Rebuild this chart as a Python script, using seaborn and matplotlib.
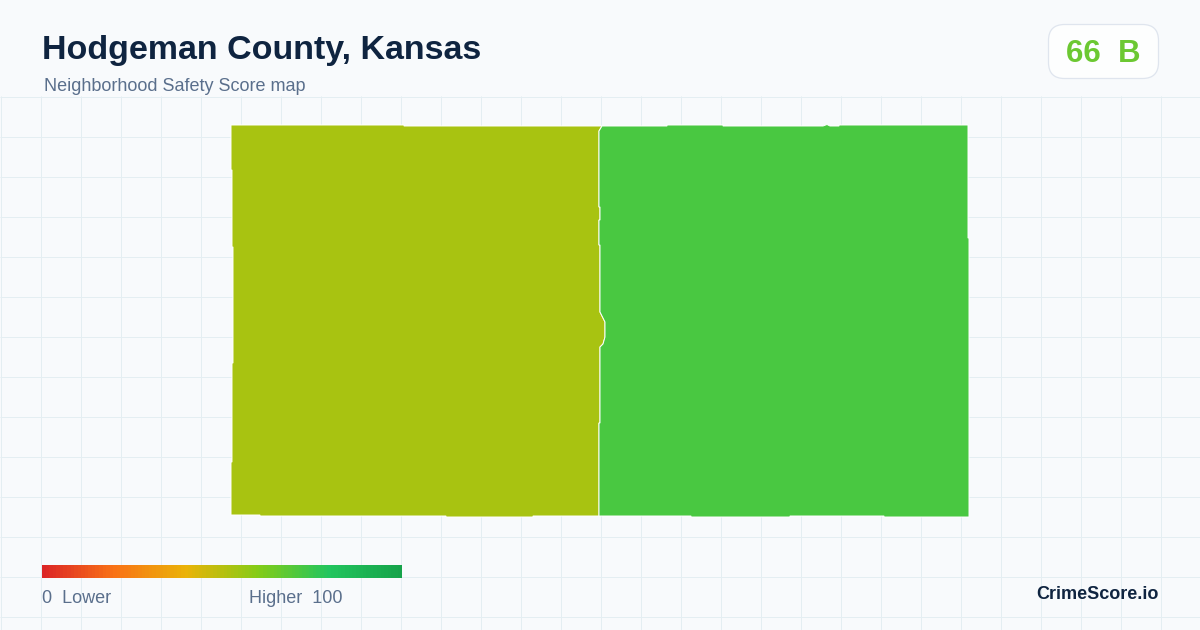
"""Hodgeman County safety score map card."""

import matplotlib.pyplot as plt
import numpy as np
import seaborn as sns
from matplotlib.colors import LinearSegmentedColormap
from matplotlib.patches import FancyBboxPatch

TITLE = "Hodgeman County, Kansas"
SUBTITLE = "Neighborhood Safety Score map"
BADGE = "66  B"
BRAND = "CrimeScore.io"

# area scores
AREA_SCORES = [53, 72]

# outlines, in image pixels
WEST_X = [231, 404, 404, 600, 602, 599, 599, 600, 600, 599, 599, 600, 600, 602, 605,
          605, 603, 600, 600, 599, 599, 533, 533, 446, 446, 260, 260, 231, 231, 232,
          232, 233, 233, 232, 232, 231]
WEST_Y = [125, 125, 126, 126, 126, 131, 207, 207, 220, 220, 245, 245, 312, 316, 322,
          337, 344, 347, 423, 423, 516, 516, 517, 517, 516, 516, 515, 515, 462, 462,
          363, 363, 247, 247, 170, 170]
EAST_X = [602, 667, 667, 723, 723, 823, 827, 830, 839, 839, 968, 968, 969, 969, 884,
          884, 790, 790, 691, 691, 599, 599, 600, 600, 603, 605, 605, 602, 600, 600,
          599, 599, 600, 600, 599, 599]
EAST_Y = [126, 126, 125, 125, 126, 126, 124.5, 126, 126, 125, 125, 238, 238, 517, 517,
          516, 516, 517, 517, 516, 516, 423, 423, 347, 344, 337, 322, 316, 312, 245,
          245, 220, 220, 207, 207, 131]

LEGEND_STOPS = [0.0, 0.2, 0.4, 0.6, 0.8, 1.0]
LEGEND_COLORS = ["#dc2626", "#f97316", "#eab308", "#84cc16", "#22c55e", "#16a34a"]
LEGEND_RANGE = [0, 100]

BG_COLOR = "#f8fafc"
GRID_COLOR = "#e4eef2"
INK_COLOR = "#0f2440"
MUTED_COLOR = "#5a6f8c"
BADGE_COLOR = "#6cc832"

W, H = 1200, 630

sns.set_theme(style="white")
plt.rcParams["font.family"] = ["Liberation Sans", "DejaVu Sans"]

score_cmap = LinearSegmentedColormap.from_list(
    "score", list(zip(LEGEND_STOPS, LEGEND_COLORS)), N=512
)

fig = plt.figure(figsize=(W / 100, H / 100), dpi=100, facecolor=BG_COLOR)
ax = fig.add_axes([0, 0, 1, 1])
ax.set_xlim(0, W)
ax.set_ylim(H, 0)
ax.set_facecolor(BG_COLOR)
ax.axis("off")

# background grid only starts under the header
ax.vlines(np.arange(0.5, W, 40), 96, H, color=GRID_COLOR, lw=0.72, zorder=1)
ax.hlines(np.arange(96.5, H, 40), 0, W, color=GRID_COLOR, lw=0.72, zorder=1)

for xs, ys, score in zip([WEST_X, EAST_X], [WEST_Y, EAST_Y], AREA_SCORES):
    ax.fill(xs, ys, facecolor=score_cmap(score / 100), edgecolor="white", lw=0.7,
            joinstyle="miter", zorder=2)

ax.text(42, 59, TITLE, fontsize=24.5, fontweight="bold", color=INK_COLOR,
        va="baseline", ha="left", zorder=4)
ax.text(44, 91, SUBTITLE, fontsize=13, color=MUTED_COLOR, va="baseline", ha="left", zorder=4)

badge = FancyBboxPatch((1048.5, 24.5), 110, 54, boxstyle="round,pad=0,rounding_size=16",
                       facecolor="#fdfefe", edgecolor="#dfe5ee", lw=0.9, zorder=3)
ax.add_patch(badge)
ax.text(1103, 62, BADGE, fontsize=22.5, fontweight="bold", color=BADGE_COLOR,
        va="baseline", ha="center", zorder=4)

# legend gradient
bar_ax = fig.add_axes([42 / W, 1 - 578 / H, 360 / W, 13 / H])
ramp = np.arange(LEGEND_RANGE[0], LEGEND_RANGE[1] + 1).reshape(1, -1)
sns.heatmap(ramp, cmap=score_cmap, cbar=False, xticklabels=False, yticklabels=False,
            vmin=LEGEND_RANGE[0], vmax=LEGEND_RANGE[1], ax=bar_ax, rasterized=True)

ax.text(42, 603, f"{LEGEND_RANGE[0]}  Lower", fontsize=13, color=MUTED_COLOR,
        va="baseline", ha="left", zorder=4)
ax.text(249, 603, f"Higher  {LEGEND_RANGE[1]}", fontsize=13, color=MUTED_COLOR,
        va="baseline", ha="left", zorder=4)
ax.text(1158.5, 599, BRAND, fontsize=13, fontweight="bold", color=INK_COLOR,
        va="baseline", ha="right", zorder=4)

fig.savefig("out.png", dpi=100, facecolor=BG_COLOR)
plt.close(fig)
